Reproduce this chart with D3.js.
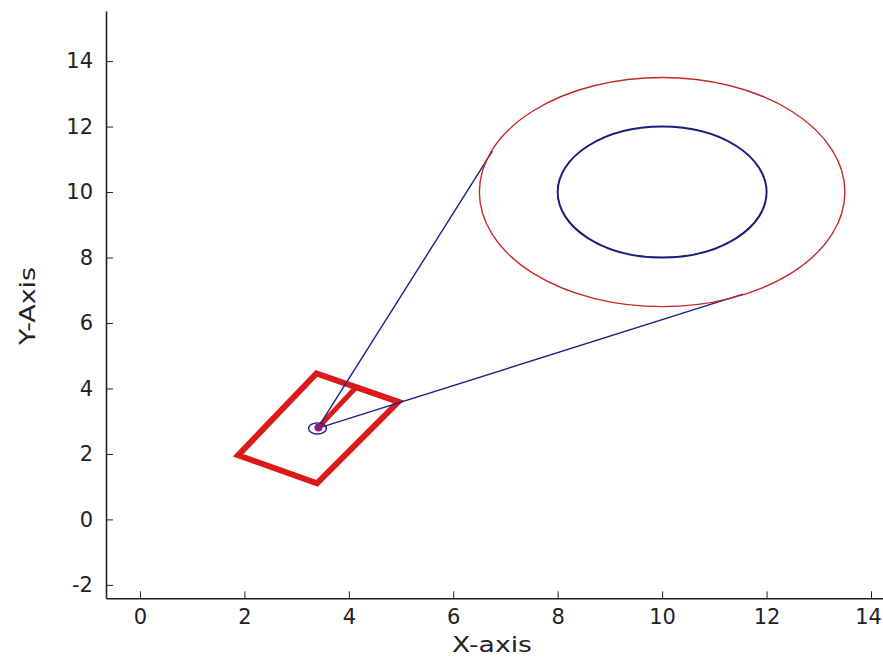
<!DOCTYPE html>
<html>
<head>
<meta charset="utf-8">
<script src="https://cdn.jsdelivr.net/npm/d3@7/dist/d3.min.js"></script>
<style>
  html, body { margin: 0; padding: 0; background: #fff; }
  svg { display: block; }
  .axis text { font-family: "DejaVu Sans", sans-serif; font-size: 21px; fill: #222; }
  .axis path, .axis line { stroke: #222; }
  .label { font-family: "DejaVu Sans", sans-serif; font-size: 22px; fill: #222; }
</style>
</head>
<body>
<svg id="chart" width="883" height="658"></svg>
<script>
// Tick values
const xTicks = [0, 2, 4, 6, 8, 10, 12, 14];
const yTicks = [-2, 0, 2, 4, 6, 8, 10, 12, 14];

// Robot footprint (rotated rectangle corners) and pose
const robotBody = [[1.88, 1.96], [3.39, 1.10], [4.95, 3.59], [3.38, 4.46]];
const robotCenter = [3.40, 2.78];
const headingTip = [4.15, 4.05];
const markerRadius = 0.17;

// Goal: centre with inner and outer rings
const goalCenter = [10, 10];
const outerRadius = [3.5];
const innerRadius = [2];

// Sight lines from the robot to the outer ring
const tangentPoints = [[6.75, 11.25], [11.55, 6.88]];

const svg = d3.select("#chart");

const x = d3.scaleLinear().domain([-0.65, 14.23]).range([106, 883]);
const y = d3.scaleLinear().domain([-2.41, 15.53]).range([598.3, 11]);

// Axes: left and bottom only, ticks pointing inward
const yAxis = d3.axisLeft(y).tickValues(yTicks).tickFormat(d3.format("d"))
  .tickSizeInner(-7).tickSizeOuter(0).tickPadding(13);
const xAxis = d3.axisBottom(x).tickValues(xTicks).tickFormat(d3.format("d"))
  .tickSizeInner(-7).tickSizeOuter(0).tickPadding(11);

const gy = svg.append("g").attr("class", "axis").attr("transform", `translate(${x.range()[0]},0)`).call(yAxis);
const gx = svg.append("g").attr("class", "axis").attr("transform", `translate(0,${y.range()[0]})`).call(xAxis);
gy.select(".domain").attr("stroke-width", 1.6);
gx.select(".domain").attr("stroke-width", 1.6);
gy.selectAll(".tick text").text(d => d < 0 ? "-" + Math.abs(d) : d);
// keep the last x label inside the figure edge
gx.selectAll(".tick text").filter(d => d === xTicks[xTicks.length - 1]).attr("dx", -3);

// Axis titles
svg.append("text").attr("class", "label")
  .attr("x", 492).attr("y", 652).attr("text-anchor", "middle")
  .attr("textLength", 80).attr("lengthAdjust", "spacingAndGlyphs")
  .text("X-axis");
svg.append("text").attr("class", "label")
  .attr("transform", "translate(35,306) rotate(-90)").attr("text-anchor", "middle")
  .attr("textLength", 78).attr("lengthAdjust", "spacingAndGlyphs")
  .text("Y-Axis");

const plot = svg.append("g");

// Robot body
plot.append("path")
  .datum(robotBody)
  .attr("d", d3.line().x(d => x(d[0])).y(d => y(d[1])).curve(d3.curveLinearClosed))
  .attr("fill", "none").attr("stroke", "#dd1a1a").attr("stroke-width", 6)
  .attr("stroke-linejoin", "miter");

// Heading marker
plot.append("line")
  .attr("x1", x(robotCenter[0])).attr("y1", y(robotCenter[1]))
  .attr("x2", x(headingTip[0])).attr("y2", y(headingTip[1]))
  .attr("stroke", "#d81a1a").attr("stroke-width", 5);

// Sight lines
plot.selectAll("line.sight").data(tangentPoints).enter().append("line")
  .attr("class", "sight")
  .attr("x1", x(robotCenter[0])).attr("y1", y(robotCenter[1]))
  .attr("x2", d => x(d[0])).attr("y2", d => y(d[1]))
  .attr("stroke", "#1e1e86").attr("stroke-width", 1.4);

// Goal rings (axes are not equal-aspect, so circles render as ellipses)
plot.selectAll("ellipse.outer").data(outerRadius).enter().append("ellipse")
  .attr("class", "outer")
  .attr("cx", x(goalCenter[0])).attr("cy", y(goalCenter[1]))
  .attr("rx", r => x(goalCenter[0] + r) - x(goalCenter[0]))
  .attr("ry", r => y(goalCenter[1]) - y(goalCenter[1] + r))
  .attr("fill", "none").attr("stroke", "#c42a2a").attr("stroke-width", 1.4);

plot.selectAll("ellipse.inner").data(innerRadius).enter().append("ellipse")
  .attr("class", "inner")
  .attr("cx", x(goalCenter[0])).attr("cy", y(goalCenter[1]))
  .attr("rx", r => x(goalCenter[0] + r) - x(goalCenter[0]))
  .attr("ry", r => y(goalCenter[1]) - y(goalCenter[1] + r))
  .attr("fill", "none").attr("stroke", "#1c1c7a").attr("stroke-width", 2);

// Robot centre marker
plot.append("ellipse")
  .attr("cx", x(robotCenter[0])).attr("cy", y(robotCenter[1]))
  .attr("rx", x(robotCenter[0] + markerRadius) - x(robotCenter[0]))
  .attr("ry", y(robotCenter[1]) - y(robotCenter[1] + markerRadius))
  .attr("fill", "none").attr("stroke", "#1e1e86").attr("stroke-width", 1.4);
plot.append("circle")
  .attr("cx", x(robotCenter[0]) + 1).attr("cy", y(robotCenter[1]) - 1)
  .attr("r", 4).attr("fill", "#8a1a8a");
</script>
</body>
</html>
